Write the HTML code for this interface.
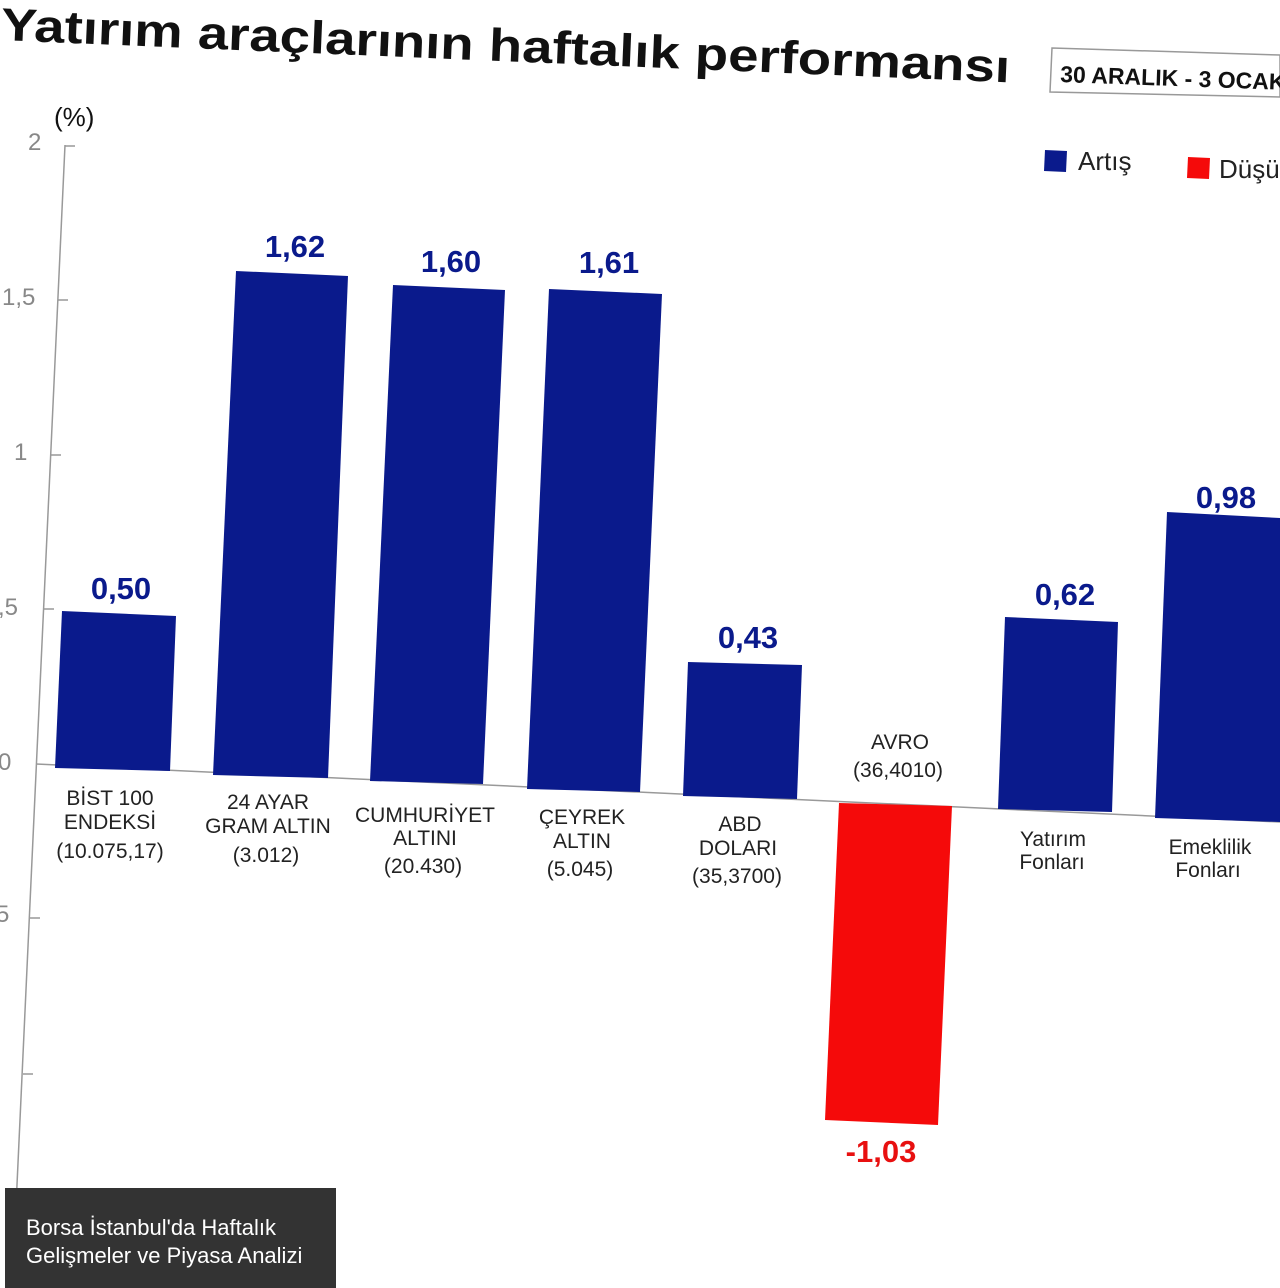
<!DOCTYPE html>
<html><head><meta charset="utf-8"><style>
body{margin:0;width:1280px;height:1288px;background:#fff;overflow:hidden;position:relative;font-family:"Liberation Sans",sans-serif}
svg{position:absolute;left:0;top:0}
.cap{position:absolute;left:5px;top:1188px;width:331px;height:100px;background:#333;color:#fff;font-size:22px;line-height:28px;box-sizing:border-box;padding:26px 0 0 21px}
</style></head><body>
<svg width="1280" height="1288" viewBox="0 0 1280 1288" font-family="Liberation Sans, sans-serif">
<g transform="rotate(2.4 0 0)">
<text x="2" y="40" font-size="46" font-weight="bold" fill="#111" textLength="1010" lengthAdjust="spacingAndGlyphs">Yatırım araçlarının haftalık performansı</text>
</g>
<polygon points="1052,48 1280,55 1280,97 1050,92" fill="#fff" stroke="#999" stroke-width="1.5"/>
<text x="1060" y="82" font-size="23" font-weight="bold" fill="#111" transform="rotate(2 1060 82)">30 ARALIK - 3 OCAK</text>
<text x="54" y="126" font-size="26" fill="#111">(%)</text>
<line x1="65" y1="145" x2="15" y2="1228" stroke="#999" stroke-width="1.5"/>
<g font-size="24" fill="#888">
<text x="28" y="150">2</text><text x="2" y="305">1,5</text><text x="14" y="460">1</text>
<text x="-2" y="615">,5</text><text x="-2" y="770">0</text><text x="-4" y="922">5</text>
</g>
<g stroke="#999" stroke-width="1.5">
<line x1="65" y1="146" x2="75" y2="146"/><line x1="58" y1="300" x2="68" y2="300"/>
<line x1="51" y1="455" x2="61" y2="455"/><line x1="44" y1="609" x2="54" y2="609"/>
<line x1="30" y1="918" x2="40" y2="918"/><line x1="23" y1="1074" x2="33" y2="1074"/>
<line x1="36" y1="764" x2="1280" y2="822"/>
</g>
<g fill="#0a1a8c">
<polygon points="62,611 176,616 170,771 55,768"/>
<polygon points="236,271 348,276 328,778 213,775"/>
<polygon points="393,285 505,290 483,784 370,781"/>
<polygon points="549,289 662,294 640,792 527,789"/>
<polygon points="688,662 802,665 797,799 683,796"/>
<polygon points="1005,617 1118,622 1112,812 998,809"/>
<polygon points="1167,512 1280,518 1280,822 1155,818"/>
</g>
<polygon points="839,803 952,806 938,1125 825,1120" fill="#f50a0a"/>
<g font-size="31" font-weight="bold" fill="#0a1a8c" text-anchor="middle">
<text x="121" y="599">0,50</text><text x="295" y="257">1,62</text><text x="451" y="272">1,60</text>
<text x="609" y="273">1,61</text><text x="748" y="648">0,43</text><text x="1065" y="605">0,62</text>
<text x="1226" y="508">0,98</text>
</g>
<text x="881" y="1162" font-size="31" font-weight="bold" fill="#e81010" text-anchor="middle">-1,03</text>
<g font-size="21" fill="#222" text-anchor="middle">
<text x="110" y="805">BİST 100</text><text x="110" y="829">ENDEKSİ</text><text x="110" y="858">(10.075,17)</text>
<text x="268" y="809">24 AYAR</text><text x="268" y="833">GRAM ALTIN</text><text x="266" y="862">(3.012)</text>
<text x="425" y="822">CUMHURİYET</text><text x="425" y="845">ALTINI</text><text x="423" y="873">(20.430)</text>
<text x="582" y="824">ÇEYREK</text><text x="582" y="848">ALTIN</text><text x="580" y="876">(5.045)</text>
<text x="740" y="831">ABD</text><text x="738" y="855">DOLARI</text><text x="737" y="883">(35,3700)</text>
<text x="900" y="749">AVRO</text><text x="898" y="777">(36,4010)</text>
<text x="1053" y="846">Yatırım</text><text x="1052" y="869">Fonları</text>
<text x="1210" y="854">Emeklilik</text><text x="1208" y="877">Fonları</text>
</g>
<polygon points="1045,150 1067,151 1066,172 1044,171" fill="#0a1a8c"/>
<text x="1078" y="170" font-size="26" fill="#222">Artış</text>
<polygon points="1188,157 1210,158 1209,179 1187,178" fill="#f50a0a"/>
<text x="1219" y="178" font-size="26" fill="#222">Düşüş</text>
</svg>
<div class="cap">Borsa İstanbul'da Haftalık<br>Gelişmeler ve Piyasa Analizi</div>
</body></html>
